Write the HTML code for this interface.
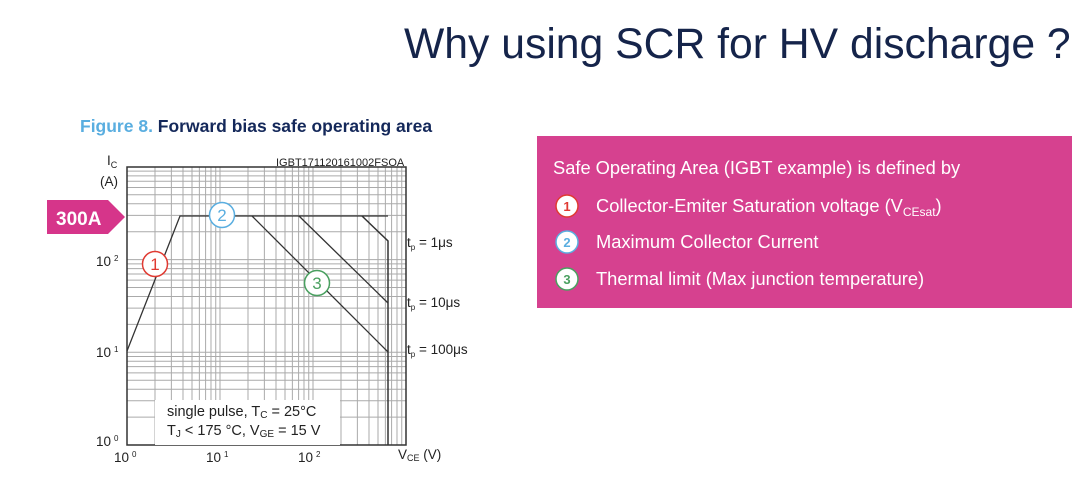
<!DOCTYPE html>
<html><head><style>
body{margin:0;width:1080px;height:486px;background:#fff;overflow:hidden;font-family:"Liberation Sans",sans-serif;position:relative}
.t{position:absolute;white-space:nowrap}
</style></head><body>
<div class="t" style="left:404px;top:20px;font-size:42.7px;color:#15244a">Why using SCR for HV discharge ?</div>
<div class="t" style="left:80px;top:116px;font-size:17.5px;font-weight:bold;color:#14285a"><span style="color:#5aaee0">Figure 8.</span> Forward bias safe operating area</div>
<svg width="1080" height="486" style="position:absolute;left:0;top:0" font-family="Liberation Sans, sans-serif">
<g stroke="#aaa" stroke-width="1" id="grid"></g>
<rect x="127" y="167" width="279" height="278" fill="none" stroke="#333" stroke-width="1.5"/>
<rect x="155" y="400" width="185" height="45" fill="#fff"/>
<polyline points="127,351 180,216 388,216" fill="none" stroke="#333" stroke-width="1.3"/>
<polyline points="362,216 388,241 388,445" fill="none" stroke="#333" stroke-width="1.5"/>
<line x1="252" y1="216" x2="388" y2="352" stroke="#333" stroke-width="1.3"/>
<line x1="299" y1="216" x2="388" y2="303" stroke="#333" stroke-width="1.3"/>
<polygon points="47,200 108,200 125,217 108,234 47,234" fill="#d6358a"/>
<text x="56" y="225" font-size="19" font-weight="bold" fill="#fff">300A</text>
<circle cx="155" cy="264" r="12.5" fill="#fff" stroke="#e03a32" stroke-width="1.5"/><text x="155" y="270" font-size="17" text-anchor="middle" fill="#e03a32">1</text>
<circle cx="222" cy="215" r="12.5" fill="#fff" stroke="#5aaee0" stroke-width="1.5"/><text x="222" y="221" font-size="17" text-anchor="middle" fill="#5aaee0">2</text>
<circle cx="317" cy="283" r="12.5" fill="#fff" stroke="#4aa060" stroke-width="1.5"/><text x="317" y="289" font-size="17" text-anchor="middle" fill="#4aa060">3</text>
<g font-size="13.5" fill="#222">
<text x="107" y="165">I<tspan font-size="9" dy="3">C</tspan></text>
<text x="100" y="186">(A)</text>
<text x="276" y="166" font-size="11">IGBT171120161002FSOA</text>
<text x="96" y="266">10<tspan font-size="8" dx="3" dy="-5">2</tspan></text>
<text x="96" y="357">10<tspan font-size="8" dx="3" dy="-5">1</tspan></text>
<text x="96" y="446">10<tspan font-size="8" dx="3" dy="-5">0</tspan></text>
<text x="114" y="462">10<tspan font-size="8" dx="3" dy="-5">0</tspan></text>
<text x="206" y="462">10<tspan font-size="8" dx="3" dy="-5">1</tspan></text>
<text x="298" y="462">10<tspan font-size="8" dx="3" dy="-5">2</tspan></text>
<text x="398" y="459">V<tspan font-size="9" dy="2">CE</tspan><tspan dy="-2"> (V)</tspan></text>
<text x="407" y="247">t<tspan font-size="8" dy="3">p</tspan><tspan dy="-3"> = 1μs</tspan></text>
<text x="407" y="307">t<tspan font-size="8" dy="3">p</tspan><tspan dy="-3"> = 10μs</tspan></text>
<text x="407" y="354">t<tspan font-size="8" dy="3">p</tspan><tspan dy="-3"> = 100μs</tspan></text>
<text x="167" y="416" font-size="14.5">single pulse, T<tspan font-size="10" dy="2">C</tspan><tspan dy="-2"> = 25°C</tspan></text>
<text x="167" y="435" font-size="14.5">T<tspan font-size="10" dy="2">J</tspan><tspan dy="-2"> &lt; 175 °C, V</tspan><tspan font-size="10" dy="2">GE</tspan><tspan dy="-2"> = 15 V</tspan></text>
</g>
<rect x="537" y="136" width="535" height="172" fill="#d6418f"/>
<g font-size="18.3" fill="#fff">
<text x="553" y="174">Safe Operating Area (IGBT example) is defined by</text>
<text x="596" y="212">Collector-Emiter Saturation voltage (V<tspan font-size="12" dy="4">CEsat</tspan><tspan dy="-4">)</tspan></text>
<text x="596" y="248">Maximum Collector Current</text>
<text x="596" y="285">Thermal limit (Max junction temperature)</text>
</g>
<circle cx="567" cy="206" r="11" fill="#fff" stroke="#e03a32" stroke-width="1.5"/><text x="567" y="211" font-size="13" font-weight="bold" text-anchor="middle" fill="#e03a32" font-family="Liberation Sans">1</text>
<circle cx="567" cy="242" r="11" fill="#fff" stroke="#5aaee0" stroke-width="1.5"/><text x="567" y="247" font-size="13" font-weight="bold" text-anchor="middle" fill="#5aaee0" font-family="Liberation Sans">2</text>
<circle cx="567" cy="279" r="11" fill="#fff" stroke="#4aa060" stroke-width="1.5"/><text x="567" y="284" font-size="13" font-weight="bold" text-anchor="middle" fill="#4aa060" font-family="Liberation Sans">3</text>
</svg>
<script>
var g=document.getElementById('grid'),s='';
for(var d=0;d<3;d++)for(var k=1;k<10;k++){var x=127+(d+Math.log10(k))*93;if(x<406)s+='<line x1="'+x+'" y1="167" x2="'+x+'" y2="445"/>';}
for(var d=0;d<3;d++)for(var k=1;k<10;k++){var y=445-(d+Math.log10(k))*92.7;if(y>167)s+='<line x1="127" y1="'+y+'" x2="406" y2="'+y+'"/>';}
g.innerHTML=s;
</script>
</body></html>
